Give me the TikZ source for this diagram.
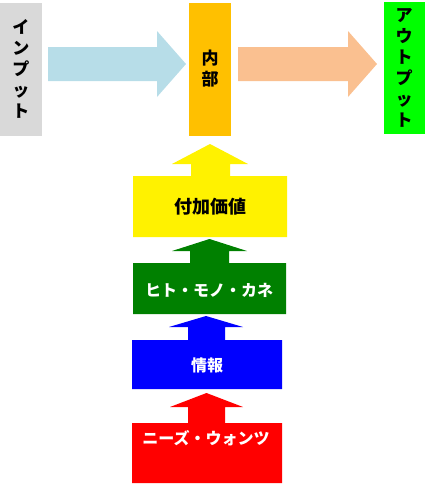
\documentclass[tikz,border=0pt]{standalone}
\usepackage{fontspec}
\newfontfamily\jp{Noto Sans CJK JP}
\definecolor{boxgray}{HTML}{D9D9D9}
\definecolor{lblue}{HTML}{B7DDE8}
\definecolor{inner}{HTML}{FFC000}
\definecolor{peach}{HTML}{FAC090}
\definecolor{lgreen}{HTML}{00FF00}
\definecolor{dgreen}{HTML}{008000}
\tikzset{
  vlabel/.style={font=\jp\bfseries\fontsize{17}{21}\selectfont, align=center, inner sep=0pt, text=black},
  hlabel/.style={font=\jp\bfseries\fontsize{16}{18}\selectfont, inner sep=0pt},
}
\begin{document}
\begin{tikzpicture}[x=1pt,y=-1pt]
\useasboundingbox (0,0) rectangle (426,485);
% top row boxes
\fill[boxgray] (0,3) rectangle (42,136);
\fill[inner] (189,3) rectangle (231,136);
\fill[lgreen] (384,2) rectangle (425,134);
% horizontal arrows
\fill[lblue] (48,47) -- (157,47) -- (157,31) -- (186,64) -- (157,97) -- (157,81) -- (48,81) -- cycle;
\fill[peach] (238,47) -- (348,47) -- (348,31) -- (377,64) -- (348,97) -- (348,81) -- (238,81) -- cycle;
% stacked blocks
\fill[yellow] (133,237) -- (133,176) -- (191,176) -- (191,164) -- (172,164) -- (210,144) -- (248,164) -- (230,164) -- (230,176) -- (287,176) -- (287,237) -- cycle;
\fill[dgreen] (133,314) -- (133,263) -- (190,263) -- (190,251) -- (172,251) -- (209.5,239) -- (247,251) -- (229,251) -- (229,263) -- (286,263) -- (286,314) -- cycle;
\fill[blue] (132,389) -- (132,340) -- (188,340) -- (188,327) -- (169,327) -- (206,316) -- (243,327) -- (225,327) -- (225,340) -- (282,340) -- (282,389) -- cycle;
\fill[red] (132,483) -- (132,423) -- (188,423) -- (188,407) -- (170,407) -- (206.5,393) -- (243,407) -- (225,407) -- (225,423) -- (282,423) -- (282,483) -- cycle;
% labels
\node[vlabel] (input) at (21,69) {イ\\ン\\プ\\ッ\\ト};
\node[vlabel] (naibu) at (210,69) {内\\部};
\node[vlabel] (output) at (404,68) {ア\\ウ\\ト\\プ\\ッ\\ト};
\node[hlabel, text=black, font=\jp\bfseries\fontsize{18}{20}\selectfont] (fuka) at (210,207) {付加価値};
\node[hlabel, text=white] (hito) at (209,290) {ヒト・モノ・カネ};
\node[hlabel, text=white] (joho) at (207,365) {情報};
\node[hlabel, text=white] (needs) at (206,438) {ニーズ・ウォンツ};
\end{tikzpicture}
\end{document}
